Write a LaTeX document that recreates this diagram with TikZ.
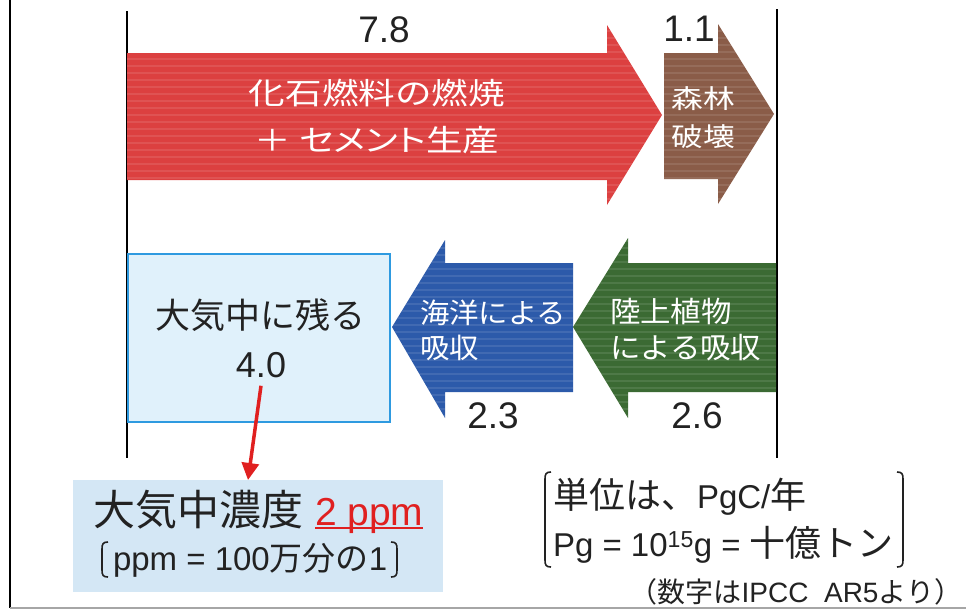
\documentclass[tikz,border=0pt]{standalone}
\usepackage{fontspec}
\usepackage{graphicx}
\setmainfont{Liberation Sans}
\newfontfamily\jp{Noto Sans CJK JP}
\newfontfamily\jpp[RawFeature=+palt]{Noto Sans CJK JP}
\usetikzlibrary{arrows.meta}
\definecolor{redA}{HTML}{DC4040}
\definecolor{brownA}{HTML}{8A5C48}
\definecolor{blueA}{HTML}{2C5AAA}
\definecolor{greenA}{HTML}{3B6A33}
\definecolor{boxfill}{HTML}{E0F1FB}
\definecolor{boxline}{HTML}{2E9AE0}
\definecolor{concfill}{HTML}{D4E7F5}
\definecolor{redline}{HTML}{E02020}
\definecolor{txt}{HTML}{222222}
\newcommand\fsz[2]{\fontsize{#1}{#2}\selectfont}
\newcommand\sx[1]{\scalebox{1.22}[1]{#1}}
\newcommand\redul[1]{\setbox0\hbox{#1}\rlap{\rule[-3.5pt]{\wd0}{2pt}}\box0}
\begin{document}
\begin{tikzpicture}[x=1pt,y=-1pt,
  lbl/.style={inner sep=0pt,outer sep=0pt,text=txt},
  wlbl/.style={inner sep=0pt,outer sep=0pt,text=white},
  num/.style={lbl,font=\fsz{37}{37}},
  frame/.style={line width=1.5pt,black},
  brk/.style={line width=1.6pt,txt},
  stripe/.style={white,opacity=0.10,line width=1.5pt},
  link/.style={line width=3.5pt,redline,-{Triangle[length=17pt,width=17pt]}}]
\useasboundingbox (0,0) rectangle (966,611);
% frame lines
\draw[frame] (10,0) -- (10,608);
\draw[line width=2pt,gray!70] (10,608) -- (966,608);
\draw[frame] (127,11) -- (127,458);
\draw[frame] (777,9) -- (777,458);
% block arrows (shapes)
\fill[redA] (127,53) -- (607,53) -- (607,25) -- (662,115) -- (607,205) -- (607,180) -- (127,180) -- cycle;
\fill[brownA] (664,53) -- (718,53) -- (718,24) -- (774,114) -- (718,204) -- (718,179) -- (664,179) -- cycle;
\fill[blueA] (573,263) -- (445,263) -- (445,240) -- (392,327) -- (445,418) -- (445,392) -- (573,392) -- cycle;
\fill[greenA] (776,263) -- (628,263) -- (628,238) -- (573,327) -- (628,418) -- (628,392) -- (776,392) -- cycle;
% faint scan stripes
\begin{scope}
\clip (127,53) -- (607,53) -- (607,25) -- (662,115) -- (607,205) -- (607,180) -- (127,180) -- cycle
      (664,53) -- (718,53) -- (718,24) -- (774,114) -- (718,204) -- (718,179) -- (664,179) -- cycle
      (573,263) -- (445,263) -- (445,240) -- (392,327) -- (445,418) -- (445,392) -- (573,392) -- cycle
      (776,263) -- (628,263) -- (628,238) -- (573,327) -- (628,418) -- (628,392) -- (776,392) -- cycle;
\foreach \yy in {24,31,...,420} {\draw[stripe] (127,\yy) -- (777,\yy);}
\end{scope}
% remaining box
\draw[line width=2pt,boxline,fill=boxfill] (128,254) rectangle (390,422);
% concentration box
\fill[concfill] (73,480) rectangle (443,592);
% labels
\node[num] (n78) at (384,30) {7.8};
\node[num] (n11) at (689,29) {1.1};
\node[wlbl,align=center,font=\jp\fsz{30}{47}] (fossil) at (377,117)
  {\sx{化石燃料の燃焼}\\\sx{\jpp ＋ セメント生産}};
\node[wlbl,align=center,font=\jp\fsz{26}{38}] (forest) at (703,118)
  {\sx{森林}\\\sx{破壊}};
\node[lbl,font=\jp\fsz{35}{35}] (remain) at (260,315) {大気中に残る};
\node[lbl,font=\fsz{36}{36}] (v40) at (261,365) {4.0};
\node[wlbl,align=left,anchor=west,font=\jp\fsz{28}{35}] (ocean) at (420,330)
  {\scalebox{1.05}[1]{海洋による}\\\scalebox{1.05}[1]{吸収}};
\node[wlbl,align=left,anchor=west,font=\jp\fsz{29}{36}] (land) at (610,330)
  {\scalebox{1.05}[1]{陸上植物}\\\scalebox{1.05}[1]{による吸収}};
\node[num] (n23) at (493,416) {2.3};
\node[num] (n26) at (697,416) {2.6};
% concentration text
\node[lbl,anchor=west,font=\jp\fsz{42}{42}] (conc) at (93,512)
  {大気中濃度\hspace{12pt}{\fontspec{Liberation Sans}\fsz{39}{39}\color{redline}\redul{2 ppm}}};
\node[lbl,anchor=west,font=\fsz{33}{33}] (ppm) at (113,560) {ppm = 100{\jp 万分の}1};
\draw[brk] (108,542) .. controls (103,542) and (102,544) .. (102,549) -- (102,570) .. controls (102,575) and (103,577) .. (108,577);
\draw[brk] (391,542) .. controls (396,542) and (397,544) .. (397,549) -- (397,570) .. controls (397,575) and (396,577) .. (391,577);
% connector
\coordinate (arrE) at (248,480);
\draw[link] ([yshift=-8pt]v40.south) -- (arrE);
% unit text
\node[lbl,anchor=west,font=\fsz{33}{33}] (unit1) at (553,497) {{\jp\fsz{36}{36}単位は、}PgC/{\jp\fsz{36}{36}年}};
\node[lbl,anchor=west,font=\fsz{33}{33}] (unit2) at (553,545) {Pg = 10\textsuperscript{15}g = {\jp\fsz{36}{36}十億トン}};
\draw[brk] (551,472) .. controls (546,472) and (545,474) .. (545,479) -- (545,560) .. controls (545,565) and (546,567) .. (551,567);
\draw[brk] (897,472) .. controls (902,472) and (903,474) .. (903,479) -- (903,560) .. controls (903,565) and (902,567) .. (897,567);
\node[lbl,anchor=east,font=\fsz{28}{28}] (src) at (962,592) {{\jp （数字は}IPCC\ \ AR5{\jp より）}};
\end{tikzpicture}
\end{document}
